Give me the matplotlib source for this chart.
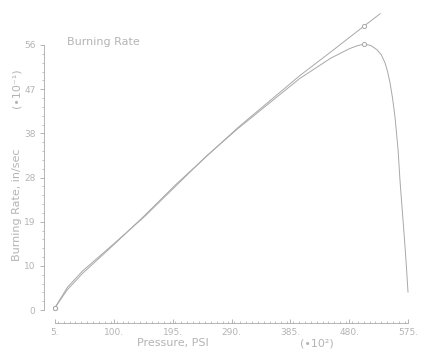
import matplotlib.pyplot as plt
import numpy as np
from matplotlib.ticker import MultipleLocator

# fitted burning rate line (x1e-1 in/sec)
fit_p = [5, 25, 50, 100, 150, 200, 250, 300, 350, 400, 450, 504, 530]
fit_r = [0.5, 4.3, 7.8, 13.8, 20.0, 26.5, 32.5, 38.5, 44.0, 49.5, 54.5, 60.0, 62.6]

# measured burning rate curve
meas_p = [5, 25, 50, 100, 150, 200, 250, 300, 350, 400, 450, 480, 492, 504,
          515, 525, 532, 538, 542, 546, 550, 554, 559, 562, 565, 569, 572, 575]
meas_r = [0.5, 4.8, 8.3, 14.0, 19.8, 26.2, 32.6, 38.3, 43.6, 48.9, 53.2, 55.2, 55.8, 56.2,
          55.9, 55.0, 53.9, 52.2, 50.4, 48.0, 44.8, 40.8, 33.8, 27.5, 22.3, 15.5, 10.0, 3.8]
peak = meas_r.index(max(meas_r))

xticks = [5, 100, 195, 290, 385, 480, 575]
xlabels = ['5.', '100.', '195.', '290.', '385.', '480.', '575.']
ylabels = ['0', '10', '19', '28', '38', '47', '56']

W, H = 435, 354
gray = '#a8a8a8'
lgray = '#b4b4b4'
fig = plt.figure(figsize=(W / 100, H / 100), dpi=100)
ax = fig.add_axes([55 / W, 1 - 310 / H, (408 - 55) / W, (310 - 45) / H])

ax.plot(fit_p, fit_r, color=gray, lw=0.7, clip_on=False)
ax.plot(meas_p, meas_r, color=gray, lw=0.7, clip_on=False)
ax.plot([fit_p[0], fit_p[-2]], [fit_r[0], fit_r[-2]], 'o', ms=3, mfc='white',
        mec=gray, mew=0.7, clip_on=False)
ax.plot([meas_p[0], meas_p[peak]], [meas_r[0], meas_r[peak]], 'o', ms=3, mfc='white',
        mec=gray, mew=0.7, clip_on=False)

ax.set_xlim(5, 575)
ax.set_ylim(0, 56)
ax.set_xticks(xticks)
ax.set_xticklabels(xlabels)
ax.set_yticks(np.linspace(0, 56, 7))
ax.set_yticklabels(ylabels)
ax.xaxis.set_minor_locator(MultipleLocator(9.5))
ax.yaxis.set_minor_locator(MultipleLocator(56 / 30))

for s in ['top', 'right']:
    ax.spines[s].set_visible(False)
ax.spines['left'].set_position(('outward', 8))
ax.spines['bottom'].set_position(('outward', 9))
for s in ['left', 'bottom']:
    ax.spines[s].set_color(gray)
    ax.spines[s].set_linewidth(0.6)

ax.tick_params(axis='x', which='major', direction='in', length=3, width=0.6,
               color=gray, labelcolor=lgray, labelsize=6.5, pad=4)
ax.tick_params(axis='x', which='minor', direction='in', length=1.5, width=0.5, color=gray)
ax.tick_params(axis='y', which='major', direction='out', length=3, width=0.6,
               color=gray, labelcolor=lgray, labelsize=6.5, pad=3)
ax.tick_params(axis='y', which='minor', direction='out', length=1.5, width=0.5, color=gray)

fig.text(67 / W, 1 - 42 / H, 'Burning Rate', color=lgray, fontsize=8, va='center')
fig.text(173 / W, 1 - 343 / H, 'Pressure, PSI', color=lgray, fontsize=8,
         ha='center', va='center')
fig.text(317 / W, 1 - 343 / H, '(\u202210\u00b2)', color=lgray, fontsize=8,
         ha='center', va='center')
fig.text(17 / W, 1 - 205 / H, 'Burning Rate, in/sec', color=lgray, fontsize=8,
         rotation=90, ha='center', va='center')
fig.text(17 / W, 1 - 88 / H, '(\u202210\u207b\u00b9)', color=lgray, fontsize=8,
         rotation=90, ha='center', va='center')

fig.savefig('out.png', dpi=100)
